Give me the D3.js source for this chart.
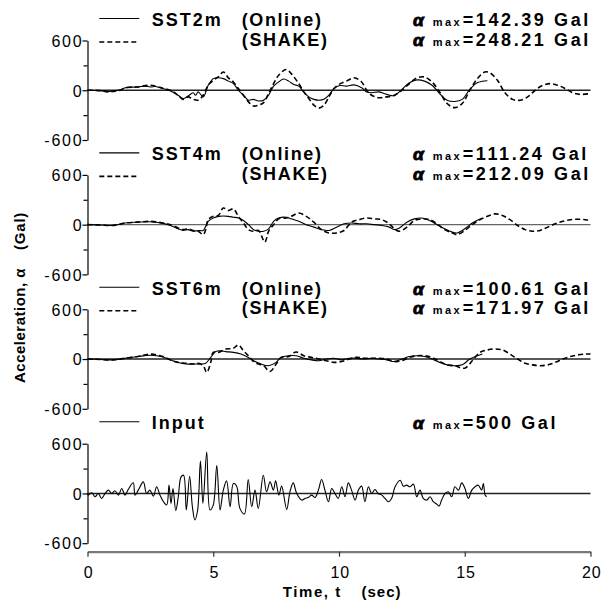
<!DOCTYPE html>
<html><head><meta charset="utf-8">
<script src="https://cdn.jsdelivr.net/npm/d3@7"></script>
<style>body{margin:0;background:#fff}svg{display:block}text{font-family:"Liberation Sans",Arial,sans-serif;fill:#000}</style>
</head><body><svg id="c" width="601" height="605"></svg>
<script>
const xTicks = [0, 5, 10, 15, 20];
const yMajor = [-600, 0, 600];
const yMinor = [-300, 300];
const names = ["SST2m", "SST4m", "SST6m"];
const maxOnline = ["142.39", "111.24", "100.61"];
const maxShake = ["248.21", "212.09", "171.97"];
const inputMax = "500";

const sst2Online = [[0,0],[0.5,-5],[0.8,-15],[1.0,-10],[1.3,5],[1.5,30],[2.0,40],[2.3,50],[2.5,40],[2.7,45],[3.0,20],[3.3,-10],[3.6,-60],[3.8,-100],[4.0,-70],[4.2,-30],[4.3,-60],[4.4,-20],[4.6,-80],[4.8,60],[5.0,140],[5.2,150],[5.4,140],[5.6,110],[5.8,80],[6.0,0],[6.2,-60],[6.4,-120],[6.6,-110],[6.8,-130],[7.0,-120],[7.2,-60],[7.4,50],[7.6,100],[7.8,135],[8.0,110],[8.2,70],[8.4,50],[8.6,-20],[8.8,-80],[9.0,-110],[9.2,-120],[9.4,-110],[9.6,-60],[9.8,20],[10.0,55],[10.3,50],[10.6,65],[10.9,30],[11.1,-20],[11.3,-30],[11.6,-20],[11.9,-50],[12.2,-65],[12.5,10],[12.8,90],[13.1,125],[13.4,110],[13.7,60],[14.0,-40],[14.3,-120],[14.6,-135],[14.9,-110],[15.2,10],[15.5,90],[15.9,115]];
const sst2Shake = [[0,0],[0.5,-5],[0.8,-20],[1.0,-15],[1.3,0],[1.5,30],[2.0,40],[2.5,60],[3.0,25],[3.3,0],[3.6,-60],[3.8,-110],[4.0,-80],[4.2,-110],[4.4,-120],[4.6,-60],[4.8,60],[5.0,120],[5.2,160],[5.4,220],[5.6,150],[5.8,100],[6.0,20],[6.2,-60],[6.4,-140],[6.6,-190],[6.8,-180],[7.0,-150],[7.2,-40],[7.4,80],[7.6,180],[7.9,250],[8.1,200],[8.4,80],[8.6,-20],[8.8,-100],[9.0,-180],[9.2,-215],[9.4,-180],[9.6,-80],[9.8,20],[10.0,70],[10.3,110],[10.6,150],[10.9,100],[11.1,0],[11.3,-60],[11.6,-90],[11.9,-80],[12.2,-60],[12.5,0],[12.8,80],[13.1,150],[13.4,160],[13.7,100],[14.0,-20],[14.3,-160],[14.6,-210],[14.9,-160],[15.2,0],[15.5,140],[15.8,220],[16.0,210],[16.3,120],[16.6,-30],[16.9,-110],[17.2,-120],[17.5,-80],[17.8,0],[18.1,60],[18.4,80],[18.7,60],[19.0,20],[19.3,-30],[19.6,-50],[20.0,-40]];
const sst4Online = [[0,0],[0.5,-5],[1.0,-10],[1.5,20],[2.0,30],[2.5,35],[3.0,15],[3.3,-10],[3.6,-50],[3.8,-70],[4.0,-60],[4.2,-80],[4.4,-70],[4.6,-70],[4.8,40],[5.0,80],[5.2,100],[5.4,105],[5.6,100],[5.8,90],[6.0,80],[6.2,50],[6.4,0],[6.6,-60],[6.8,-80],[7.0,-80],[7.2,-50],[7.4,40],[7.6,80],[7.9,90],[8.1,70],[8.4,40],[8.7,0],[9.0,-30],[9.3,-60],[9.6,-70],[9.9,-30],[10.2,10],[10.5,20],[10.8,10],[11.1,10],[11.4,0],[11.7,-10],[12.0,-30],[12.2,-60],[12.4,-40],[12.7,30],[13.0,70],[13.3,80],[13.6,50],[13.9,0],[14.2,-50],[14.5,-90],[14.7,-100],[15.0,-50],[15.3,20],[15.7,80]];
const sst4Shake = [[0,0],[0.5,-5],[1.0,-10],[1.5,20],[2.0,30],[2.5,40],[3.0,20],[3.3,0],[3.6,-40],[3.8,-60],[4.0,-50],[4.2,-70],[4.4,-80],[4.6,-120],[4.7,-60],[4.8,60],[5.0,100],[5.2,110],[5.4,200],[5.6,170],[5.8,190],[6.0,100],[6.2,20],[6.4,-60],[6.6,-80],[6.8,-70],[7.05,-210],[7.2,-80],[7.4,0],[7.6,70],[7.9,80],[8.1,100],[8.4,140],[8.7,100],[9.0,30],[9.3,-60],[9.6,-100],[9.9,-100],[10.2,-70],[10.5,30],[10.8,60],[11.1,80],[11.4,70],[11.7,60],[12.0,10],[12.2,-50],[12.4,-80],[12.7,-30],[13.0,50],[13.3,70],[13.6,60],[13.9,10],[14.2,-60],[14.5,-100],[14.7,-120],[15.0,-70],[15.3,0],[15.6,60],[15.9,100],[16.2,130],[16.5,110],[16.8,60],[17.1,-10],[17.4,-60],[17.7,-80],[18.0,-70],[18.3,-30],[18.6,10],[18.9,40],[19.2,60],[19.5,65],[19.8,60],[20.0,50]];
const sst6Online = [[0,0],[0.5,-5],[1.0,-10],[1.5,10],[2.0,30],[2.5,45],[3.0,25],[3.3,-10],[3.6,-40],[3.9,-60],[4.2,-60],[4.5,-60],[4.7,-50],[4.9,20],[5.1,90],[5.3,100],[5.5,90],[5.8,80],[6.1,60],[6.4,20],[6.6,-20],[6.9,-60],[7.2,-80],[7.5,-40],[7.7,20],[8.0,40],[8.3,40],[8.6,10],[8.9,-10],[9.2,-20],[9.5,0],[9.8,10],[10.1,-10],[10.4,10],[10.7,10],[11.0,0],[11.3,10],[11.6,0],[11.9,-10],[12.2,-30],[12.5,0],[12.8,30],[13.1,40],[13.4,30],[13.7,0],[14.0,-40],[14.3,-70],[14.6,-80],[14.9,-70],[15.2,0],[15.5,40],[15.7,60]];
const sst6Shake = [[0,0],[0.5,-5],[1.0,-10],[1.5,10],[2.0,30],[2.5,60],[3.0,30],[3.3,-10],[3.6,-40],[3.9,-50],[4.2,-60],[4.4,-50],[4.6,-80],[4.74,-160],[4.9,-40],[5.0,80],[5.2,80],[5.5,120],[5.8,130],[6.0,170],[6.2,100],[6.4,40],[6.6,-30],[6.8,-60],[7.0,-80],[7.26,-150],[7.5,-60],[7.7,20],[8.0,30],[8.3,85],[8.6,40],[8.9,20],[9.2,0],[9.5,-20],[9.8,-40],[10.1,-30],[10.4,0],[10.7,20],[11.0,10],[11.3,10],[11.6,10],[11.9,0],[12.2,-30],[12.5,-20],[12.8,20],[13.1,40],[13.4,40],[13.7,20],[14.0,-30],[14.3,-70],[14.6,-80],[15.0,-110],[15.3,-20],[15.6,80],[15.9,110],[16.2,122],[16.5,110],[16.8,60],[17.1,0],[17.4,-50],[17.7,-70],[18.0,-80],[18.3,-70],[18.6,-40],[18.9,0],[19.2,30],[19.5,50],[19.8,60],[20.0,60]];
const inputWave = [[0,0],[0.03,-20],[0.17,8],[0.30,-40],[0.43,0],[0.56,-60],[0.70,0],[0.83,40],[0.96,0],[1.09,32],[1.23,-20],[1.36,60],[1.49,-20],[1.62,48],[1.82,128],[1.89,-20],[2.02,40],[2.22,140],[2.35,0],[2.48,40],[2.62,-32],[2.75,80],[2.88,-20],[3.02,-100],[3.15,-140],[3.24,100],[3.32,-120],[3.40,60],[3.51,-208],[3.61,-40],[3.72,200],[3.82,220],[3.93,-200],[4.06,208],[4.17,-160],[4.27,-320],[4.38,-200],[4.49,392],[4.59,-120],[4.74,500],[4.87,-200],[5.00,-140],[5.14,336],[5.27,-200],[5.40,40],[5.53,152],[5.67,-160],[5.80,120],[5.93,88],[6.06,-180],[6.24,-248],[6.39,168],[6.53,-160],[6.66,40],[6.79,-180],[6.99,220],[7.12,20],[7.26,140],[7.39,40],[7.48,152],[7.61,-20],[7.72,88],[7.92,-192],[8.05,20],[8.18,128],[8.32,0],[8.52,-80],[8.65,-60],[8.78,-48],[8.91,-20],[9.05,-48],[9.18,40],[9.31,168],[9.44,40],[9.58,-100],[9.71,60],[9.84,0],[9.97,-60],[10.11,80],[10.24,-40],[10.37,128],[10.50,40],[10.64,-80],[10.77,40],[10.90,88],[11.03,-100],[11.17,80],[11.30,0],[11.43,48],[11.56,0],[11.70,-20],[11.83,-60],[11.96,-100],[12.09,-60],[12.23,80],[12.43,160],[12.56,88],[12.69,100],[12.82,80],[12.96,112],[13.09,-40],[13.22,40],[13.35,-60],[13.49,-80],[13.62,-40],[13.75,-100],[13.88,-128],[13.98,-152],[14.08,-80],[14.22,0],[14.35,20],[14.48,-40],[14.61,80],[14.75,40],[14.88,128],[15.01,60],[15.14,-60],[15.28,40],[15.41,80],[15.54,100],[15.67,40],[15.74,120],[15.81,-20],[15.87,-40]];

const panels = [
  {name: names[0], online: sst2Online, shake: sst2Shake, mo: maxOnline[0], ms: maxShake[0]},
  {name: names[1], online: sst4Online, shake: sst4Shake, mo: maxOnline[1], ms: maxShake[1]},
  {name: names[2], online: sst6Online, shake: sst6Shake, mo: maxOnline[2], ms: maxShake[2]},
  {name: "Input", online: inputWave, shake: null, mo: inputMax, ms: null}
];

const svg = d3.select("#c");
svg.append("rect").attr("width", 601).attr("height", 605).attr("fill", "#fff");
const x = d3.scaleLinear().domain([0, 20]).range([87.5, 590.5]);
const panelH = 99.5, firstTop = 40.5, step = 134.4;

function alphaText(g, yb, val) {
  g.append("text").attr("x", 413).attr("y", yb).attr("font-weight", "bold")
    .attr("font-size", 17.4).attr("font-style", "italic")
    .attr("stroke", "#000").attr("stroke-width", 0.9).text("α");
  g.append("text").attr("x", 432.7).attr("y", yb).attr("font-weight", "bold")
    .attr("font-size", 11).attr("letter-spacing", 2.5).text("max");
  g.append("text").attr("x", 462.7).attr("y", yb).attr("font-weight", "bold")
    .attr("font-size", 18).attr("letter-spacing", 2.6).text("=" + val + " Gal");
}

panels.forEach((p, i) => {
  const top = firstTop + i * step;
  const y = d3.scaleLinear().domain([-600, 600]).range([top + panelH, top]);
  const g = svg.append("g");

  g.append("line").attr("x1", x(0)).attr("x2", x(20)).attr("y1", y(0)).attr("y2", y(0))
    .attr("stroke", i === 1 ? "#666" : "#222").attr("stroke-width", 1.4);

  const ax = g.append("g").attr("transform", `translate(${x(0)},0)`)
    .call(d3.axisLeft(y).tickValues(yMajor).tickSize(5).tickSizeOuter(0).tickFormat(d => String(d)));
  ax.select(".domain").attr("stroke", "#000").attr("stroke-width", 1.2);
  ax.selectAll(".tick line").attr("stroke", "#000").attr("stroke-width", 1.2);
  ax.selectAll(".tick text").attr("x", -4).attr("dy", "0.36em")
    .style("font-size", "16px").style("font-family", "'Liberation Sans',Arial,sans-serif")
    .attr("letter-spacing", 1.8).attr("fill", "#000");
  const mn = g.append("g").attr("transform", `translate(${x(0)},0)`)
    .call(d3.axisLeft(y).tickValues(yMinor).tickSize(4).tickSizeOuter(0).tickFormat(""));
  mn.select(".domain").remove();
  mn.selectAll(".tick line").attr("stroke", "#000").attr("stroke-width", 1.2);

  const line = d3.line().x(d => x(d[0])).y(d => y(d[1])).curve(d3.curveCatmullRom.alpha(0.5));
  if (p.shake) {
    g.append("path").datum(p.shake).attr("d", line).attr("fill", "none")
      .attr("stroke", "#000").attr("stroke-width", 1.6).attr("stroke-dasharray", "5,3");
  }
  g.append("path").datum(p.online).attr("d", line).attr("fill", "none")
    .attr("stroke", "#000").attr("stroke-width", 1.1);

  g.append("line").attr("x1", 99.3).attr("x2", 139.3).attr("y1", top - 22).attr("y2", top - 22)
    .attr("stroke", "#000").attr("stroke-width", 1.1);
  g.append("text").attr("x", 151.7).attr("y", top - 14.5).attr("font-size", 18).attr("font-weight", "bold")
    .attr("letter-spacing", 2).text(p.name);
  alphaText(g, top - 14.5, p.mo);
  if (p.shake) {
    g.append("text").attr("x", 241.7).attr("y", top - 14.5).attr("font-size", 18).attr("font-weight", "bold")
      .attr("letter-spacing", 1.6).text("(Online)");
    g.append("line").attr("x1", 99.3).attr("x2", 139.3).attr("y1", top + 1.5).attr("y2", top + 1.5)
      .attr("stroke", "#000").attr("stroke-width", 1.6).attr("stroke-dasharray", "5,3");
    g.append("text").attr("x", 241.7).attr("y", top + 5).attr("font-size", 18).attr("font-weight", "bold")
      .attr("letter-spacing", 1.7).text("(SHAKE)");
    alphaText(g, top + 5, p.ms);
  }
});

const xa = svg.append("g").attr("transform", "translate(0,551.7)")
  .call(d3.axisBottom(x).tickValues(xTicks).tickSize(5).tickSizeOuter(0).tickFormat(d => String(d)));
xa.select(".domain").attr("stroke", "#7a7a7a").attr("stroke-width", 2.2);
xa.selectAll(".tick line").attr("stroke", "#333").attr("stroke-width", 1.2);
xa.selectAll(".tick text").attr("y", 26.6).attr("dy", 0).attr("dx", "0.05em")
  .style("font-size", "16px").style("font-family", "'Liberation Sans',Arial,sans-serif")
  .attr("letter-spacing", 1).attr("fill", "#000");

svg.append("text").attr("x", 282.7).attr("y", 597).attr("font-size", 15).attr("font-weight", "bold")
  .attr("letter-spacing", 1.6).text("Time, t");
svg.append("text").attr("x", 361.5).attr("y", 597).attr("font-size", 15).attr("font-weight", "bold")
  .attr("letter-spacing", 1).text("(sec)");
svg.append("text").attr("transform", "translate(25,383) rotate(-90)").attr("font-size", 15)
  .attr("font-weight", "bold").attr("letter-spacing", 0.5).text("Acceleration, α");
svg.append("text").attr("transform", "translate(25,250) rotate(-90)").attr("font-size", 15)
  .attr("font-weight", "bold").attr("letter-spacing", 0.8).text("(Gal)");
</script></body></html>
